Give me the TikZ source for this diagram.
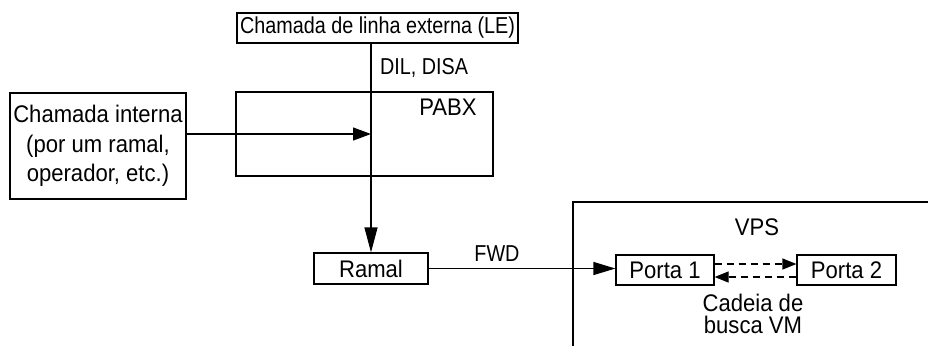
\documentclass[tikz,border=0pt]{standalone}
\usepackage{fontspec}
\setmainfont[FakeStretch=0.92]{Liberation Sans}
\newfontfamily\narrowfont[FakeStretch=0.86]{Liberation Sans}
\usetikzlibrary{arrows.meta}
\tikzset{
  box/.style={draw,line width=1.2pt,inner sep=0pt,minimum height=30pt},
  lbl/.style={inner sep=0pt},
  narrow/.style={font=\fontsize{23}{26}\narrowfont},
  arr/.style={-{Triangle[length=#1,width=13pt]},line width=1.2pt},
  arr/.default=22pt,
  darr/.style={-{Triangle[length=14pt,width=11pt]},line width=1.2pt,dash pattern=on 7pt off 5pt}
}
\begin{document}
\begin{tikzpicture}[x=1pt,y=-1pt,font=\fontsize{24}{28}\selectfont]
  \useasboundingbox (0,0) rectangle (931,346);
  \node[box,narrow,minimum width=281pt] (le) at (377.5,28) {Chamada de linha externa (LE)};
  \node[box,line width=1.8pt,minimum width=257pt,minimum height=84pt] (pabx) at (364.5,134) {};
  \node[lbl] (pabxlbl) at (448,107) {PABX};
  \node[lbl,narrow,anchor=west] (dil) at (380,68) {DIL, DISA};
  \node[box,line width=2pt,minimum width=176pt,minimum height=106pt,align=center,
    font=\fontsize{24}{29.5}\selectfont] (interna) at (98,146) {Chamada interna\\(por um ramal,\\operador, etc.)};
  \node[box,minimum width=114pt,minimum height=31pt] (ramal) at (371,268.5) {Ramal};
  \node[lbl,narrow] (fwd) at (497,254) {FWD};

  \draw[line width=1.8pt] (928,202) -- (573,202) -- (573,346);
  \node[lbl] (vps) at (757,227) {VPS};
  \node[box,minimum width=98pt] (porta1) at (665,270) {Porta 1};
  \node[box,minimum width=99pt] (porta2) at (846.5,270) {Porta 2};
  \node[lbl,align=center,font=\fontsize{24}{22}\selectfont] (cadeia) at (753,314) {Cadeia de\\busca VM};

  \coordinate (hit) at (371,134);
  \draw[arr=25pt] (ramal.north |- le.south) -- (ramal.north);
  \draw[arr=18pt] (interna.east |- hit) -- (hit);
  \draw[arr] (ramal.east) -- (ramal.east -| porta1.west);
  \draw[darr] ([yshift=6pt]porta1.east) -- ([yshift=6pt]porta1.east -| porta2.west);
  \draw[darr] ([yshift=-7pt]porta2.west) -- ([yshift=-7pt]porta2.west -| porta1.east);
\end{tikzpicture}
\end{document}
